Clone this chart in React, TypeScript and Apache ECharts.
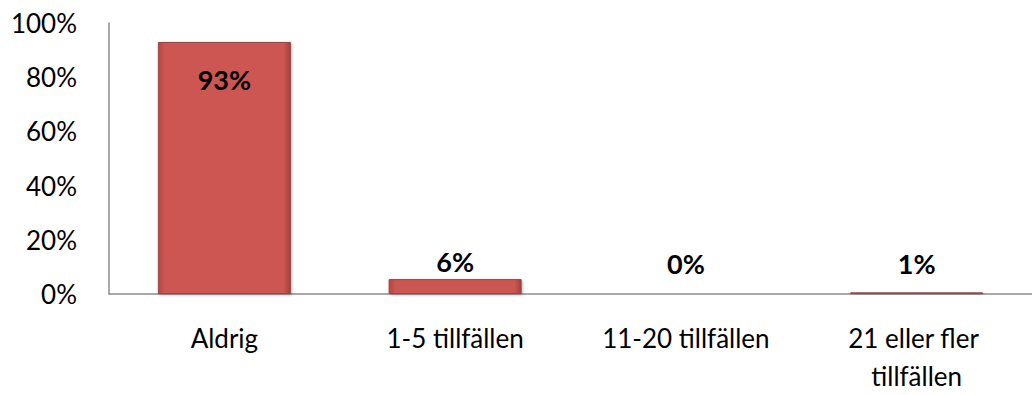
import React, { useEffect, useRef } from "react";
import * as echarts from "echarts";

const categories = ["Aldrig", "1-5 tillfällen", "11-20 tillfällen", "21 eller fler tillfällen"];
const values = [93, 5.5, 0.2, 0.6];
const yTicks = [0, 20, 40, 60, 80, 100];
const labelDistances = [24, 4, 16, 15];

export default function App() {
  const ref = useRef<HTMLDivElement>(null);
  useEffect(() => {
    document.body.style.overflow = "hidden";
    const chart = echarts.init(ref.current!, undefined, { renderer: "svg" });
    const font = "Lato";
    chart.setOption({
      animation: false,
      textStyle: { fontFamily: font },
      grid: { left: 109, top: 23, width: 936, height: 277, containLabel: false },
      xAxis: {
        type: "category",
        data: categories,
        axisLine: { show: true, lineStyle: { color: "#8c8c8c", width: 1.5 } },
        axisTick: { show: false },
        axisLabel: {
          color: "#000",
          fontFamily: font,
          fontSize: 26,
          lineHeight: 38,
          margin: 25,
          width: 215,
          overflow: "break",
          interval: 0,
        },
      },
      yAxis: {
        type: "value",
        min: yTicks[0],
        max: yTicks[yTicks.length - 1],
        interval: 20,
        axisLine: { show: true, lineStyle: { color: "#8c8c8c", width: 1.5 } },
        axisTick: { show: false },
        splitLine: { show: false },
        axisLabel: {
          color: "#000",
          fontFamily: font,
          fontSize: 26,
          margin: 32,
          formatter: (v: number) => v + "%",
        },
      },
      series: [
        {
          type: "bar",
          barWidth: 133,
          data: values.map((v, i) => ({
            value: v,
            label: {
              show: true,
              position: i === 0 ? "insideTop" : "top",
              distance: labelDistances[i],
            },
          })),
          itemStyle: {
            color: {
              type: "linear",
              x: 0, y: 0, x2: 1, y2: 0,
              colorStops: [
                { offset: 0, color: "#b54542" },
                { offset: 0.05, color: "#cd5653" },
                { offset: 0.95, color: "#cd5653" },
                { offset: 1, color: "#a53f3c" },
              ],
            },
            borderColor: "#8e4a48",
            borderWidth: 1,
            shadowColor: "rgba(0,0,0,0.3)",
            shadowBlur: 3,
            shadowOffsetX: 1,
            shadowOffsetY: 1,
          },
          label: {
            show: true,
            color: "#000",
            fontFamily: font,
            fontWeight: "bold",
            fontSize: 27,
            formatter: (p: any) => Math.round(p.value) + "%",
          },
        },
      ],
    });
    return () => chart.dispose();
  }, []);
  return (
    <div
      ref={ref}
      style={{ position: "absolute", left: 0, top: 0, width: 1032, height: 395, overflow: "hidden", background: "#fff" }}
    />
  );
}
